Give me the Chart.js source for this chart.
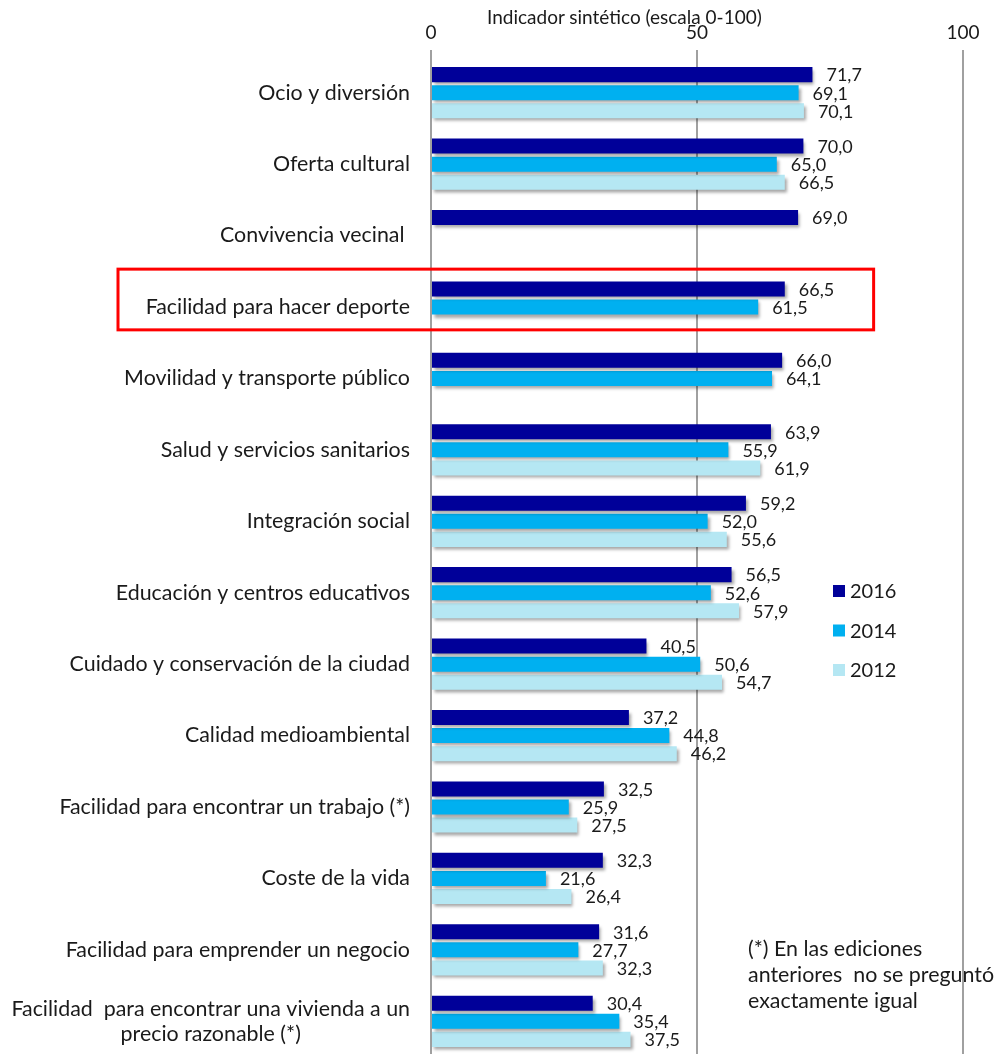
<!DOCTYPE html>
<html>
<head>
<meta charset="utf-8">
<script src="https://cdn.jsdelivr.net/npm/chart.js@4"></script>
<style>
  html, body { margin: 0; padding: 0; background: #fff; overflow: hidden; }
  #wrap { position: relative; width: 998px; height: 1054px; overflow: hidden; font-family: Lato, sans-serif; color: #1a1a1a; }
  #chart-box { position: absolute; left: 0; top: 0; width: 998px; height: 1060px; }
  #axis-title { position: absolute; left: 487px; top: 5px; font-size: 19px; white-space: nowrap; }
  #note { position: absolute; left: 748px; top: 935px; font-size: 21.4px; line-height: 26px; white-space: pre; }
</style>
</head>
<body>
<div id="wrap">
  <div id="chart-box"><canvas id="chart"></canvas></div>
  <div id="axis-title">Indicador sintético (escala 0-100)</div>
  <div id="note">(*) En las ediciones
anteriores  no se preguntó
exactamente igual</div>
</div>
<script>
// categories (top to bottom)
const categories = [
  'Ocio y diversión',
  'Oferta cultural',
  'Convivencia vecinal ',
  'Facilidad para hacer deporte',
  'Movilidad y transporte público',
  'Salud y servicios sanitarios',
  'Integración social',
  'Educación y centros educativos',
  'Cuidado y conservación de la ciudad',
  'Calidad medioambiental',
  'Facilidad para encontrar un trabajo (*)',
  'Coste de la vida',
  'Facilidad para emprender un negocio',
  ['Facilidad  para encontrar una vivienda a un', 'precio razonable (*)']
];

const values2016 = [71.7, 70.0, 69.0, 66.5, 66.0, 63.9, 59.2, 56.5, 40.5, 37.2, 32.5, 32.3, 31.6, 30.4];
const values2014 = [69.1, 65.0, null, 61.5, 64.1, 55.9, 52.0, 52.6, 50.6, 44.8, 25.9, 21.6, 27.7, 35.4];
const values2012 = [70.1, 66.5, null, null, null, 61.9, 55.6, 57.9, 54.7, 46.2, 27.5, 26.4, 32.3, 37.5];

const seriesLabels = ['2016', '2014', '2012'];
const seriesColors = ['#000099', '#00B0F0', '#B5E7F3'];
const xTicks = [0, 50, 100];
const highlightIndex = 3;

const FONT = 'Lato, sans-serif';
const TEXT = '#1a1a1a';

// shadow under bars, value labels, category labels, legend, highlight box
const decorPlugin = {
  id: 'decor',
  beforeDatasetsDraw(chart) {
    const ctx = chart.ctx;
    ctx.save();
    ctx.shadowColor = 'rgba(0,0,0,0.35)';
    ctx.shadowBlur = 3;
    ctx.shadowOffsetX = 2;
    ctx.shadowOffsetY = 3;
  },
  afterDatasetsDraw(chart) {
    const ctx = chart.ctx;
    ctx.restore();
    const yScale = chart.scales.y;
    const xScale = chart.scales.x;

    // value labels
    ctx.save();
    ctx.font = '18px ' + FONT;
    ctx.fillStyle = TEXT;
    ctx.textAlign = 'left';
    ctx.textBaseline = 'middle';
    chart.data.datasets.forEach((ds, di) => {
      const meta = chart.getDatasetMeta(di);
      meta.data.forEach((bar, i) => {
        const v = ds.data[i];
        if (v === null || v === undefined) return;
        ctx.fillText(v.toFixed(1).replace('.', ','), bar.x + 14, bar.y + 1);
      });
    });
    ctx.restore();

    // category labels
    ctx.save();
    ctx.font = '21.4px ' + FONT;
    ctx.fillStyle = TEXT;
    ctx.textBaseline = 'middle';
    const right = 410;
    categories.forEach((lab, i) => {
      const cy = yScale.getPixelForValue(i);
      if (Array.isArray(lab)) {
        const w = ctx.measureText(lab[0]).width;
        const cx = right - w / 2;
        ctx.textAlign = 'center';
        const lh = 25;
        lab.forEach((line, k) => {
          ctx.fillText(line, cx, cy + (k - (lab.length - 1) / 2) * lh);
        });
      } else {
        ctx.textAlign = 'right';
        ctx.fillText(lab, right, cy);
      }
    });
    ctx.restore();

    // highlight box
    const step = yScale.getPixelForValue(1) - yScale.getPixelForValue(0);
    const hc = yScale.getPixelForValue(highlightIndex);
    ctx.save();
    ctx.strokeStyle = '#FF0000';
    ctx.lineWidth = 3;
    const bx0 = 118, bx1 = xScale.getPixelForValue(83.2);
    const by0 = hc - step * 0.53, by1 = hc + step * 0.32;
    ctx.strokeRect(bx0, by0, bx1 - bx0, by1 - by0);
    ctx.restore();

    // legend
    ctx.save();
    ctx.font = '20px ' + FONT;
    ctx.textBaseline = 'middle';
    ctx.textAlign = 'left';
    const lx = 833, ly = 591, lgap = 39.5;
    chart.data.datasets.forEach((ds, di) => {
      const y = ly + di * lgap;
      ctx.fillStyle = ds.backgroundColor;
      ctx.fillRect(lx, y - 6, 12, 12);
      ctx.fillStyle = TEXT;
      ctx.fillText(ds.label, lx + 17, y + 1);
    });
    ctx.restore();
  }
};

const ctx = document.getElementById('chart').getContext('2d');
new Chart(ctx, {
  type: 'bar',
  data: {
    labels: categories,
    datasets: [
      { label: seriesLabels[0], data: values2016, backgroundColor: seriesColors[0] },
      { label: seriesLabels[1], data: values2014, backgroundColor: seriesColors[1] },
      { label: seriesLabels[2], data: values2012, backgroundColor: seriesColors[2] }
    ]
  },
  options: {
    indexAxis: 'y',
    responsive: true,
    maintainAspectRatio: false,
    animation: false,
    categoryPercentage: 0.76,
    barPercentage: 0.83,
    layout: { padding: { left: 431, right: 35, top: 0, bottom: 3 } },
    plugins: {
      legend: { display: false },
      tooltip: { enabled: false }
    },
    scales: {
      x: {
        position: 'top',
        min: 0,
        max: 100,
        afterBuildTicks: (scale) => {
          scale.ticks = xTicks.map(v => ({ value: v }));
        },
        afterFit: (scale) => { scale.height = 57; },
        border: { display: false },
        grid: {
          color: '#A0A0A0',
          lineWidth: 2,
          tickLength: 7,
          drawTicks: true
        },
        ticks: {
          font: { family: FONT, size: 19 },
          color: TEXT,
          padding: 6,
          maxRotation: 0
        }
      },
      y: {
        display: false,
        grid: { display: false }
      }
    }
  },
  plugins: [decorPlugin]
});
</script>
</body>
</html>
